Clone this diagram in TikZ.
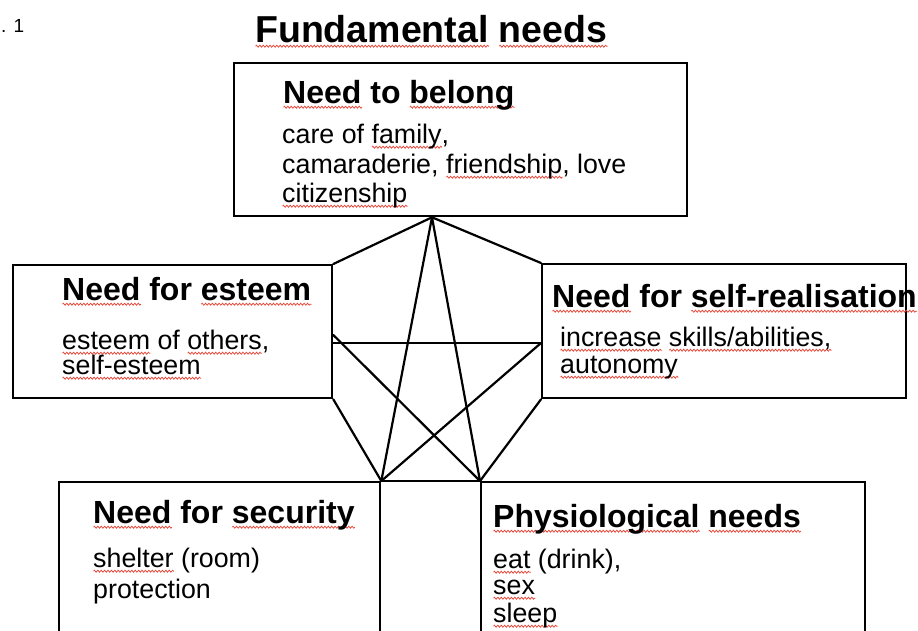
\documentclass[tikz,border=0pt]{standalone}
\usepackage{fontspec}
\setmainfont{Liberation Sans}
\usetikzlibrary{decorations.pathmorphing}
\definecolor{sqred}{RGB}{232,70,55}
\newsavebox\sqbox
\newlength\sqw
\newcommand\sq[1]{\sbox\sqbox{#1}\setlength\sqw{\wd\sqbox}\rlap{\tikz[baseline=0pt]\draw[sqred,line width=0.75pt,decorate,decoration={zigzag,amplitude=1pt,segment length=3.4pt}] (0pt,-4.2pt) -- (\sqw,-4.2pt);}\usebox\sqbox}
\tikzset{
  box/.style={draw, line width=2.3pt, inner sep=0pt, anchor=north west},
  link/.style={line width=2.2pt, line join=round, line cap=round},
  title/.style={anchor=base west, inner sep=0pt, font=\fontsize{37.5}{40}\selectfont\bfseries},
  head/.style={anchor=base west, inner sep=0pt, font=\fontsize{32}{36}\selectfont\bfseries},
  body/.style={anchor=base west, inner sep=0pt, font=\fontsize{26.8}{30}\selectfont},
  tag/.style={anchor=base west, inner sep=0pt, font=\fontsize{19}{20}\selectfont},
}
\begin{document}
\begin{tikzpicture}[x=1pt,y=-1pt]
\useasboundingbox (0,0) rectangle (918,630);
\clip (0,0) rectangle (918,630);
% label and title
\node[tag] (fig) at (1,32) {. 1};
\node[title] (ttl) at (255,42) {\sq{Fundamental} \sq{needs}};
% boxes
\node[box, minimum width=453pt, minimum height=153pt] (top) at (233,62) {};
\node[box, minimum width=319pt, minimum height=133pt] (esteem) at (12,264) {};
\node[box, minimum width=364pt, minimum height=134pt] (selfr) at (541,263) {};
\node[box, minimum width=321pt, minimum height=220pt] (secur) at (58,481) {};
\node[box, minimum width=384pt, minimum height=220pt] (phys) at (480,481) {};
% top box text
\node[head] (h1) at (283,103) {\sq{Need} to \sq{belong}};
\node[body] (b11) at (282,143) {care of \sq{family},};
\node[body] (b12) at (282,173) {camaraderie, \sq{friendship}, love};
\node[body] (b13) at (282,202) {\sq{citizenship}};
% esteem
\node[head] (h2) at (62,300) {\sq{Need} for \sq{esteem}};
\node[body] (b21) at (62,349) {\sq{esteem} of \sq{others},};
\node[body] (b22) at (62,374) {\sq{self-esteem}};
% self-realisation
\node[head] (h3) at (552,307) {\sq{Need} for \sq{self-realisation}};
\node[body] (b31) at (560,346) {\sq{increase} \sq{skills/abilities,}};
\node[body] (b32) at (560,373) {\sq{autonomy}};
% security
\node[head] (h4) at (93,523) {\sq{Need} for \sq{security}};
\node[body] (b41) at (93,567) {\sq{shelter} (room)};
\node[body] (b42) at (93,598) {protection};
% physiological
\node[head] (h5) at (493,527) {\sq{Physiological} \sq{needs}};
\node[body] (b51) at (493,568) {\sq{eat} (drink),};
\node[body] (b52) at (493,594) {\sq{sex}};
\node[body] (b53) at (493,622) {\sq{sleep}};
% connection points
\coordinate (T) at (top.south -| 432,0);
\coordinate (LH) at (esteem.north east |- 0,343);
\coordinate (LD) at (esteem.north east |- 0,335);
\coordinate (RH) at (selfr.north west |- 0,343);
% connectors
\draw[link] (esteem.north east) -- (T) -- (selfr.north west);
\draw[link] (secur.north east) -- (T) -- (phys.north west);
\draw[link] (esteem.south east) -- (secur.north east);
\draw[link] (selfr.south west) -- (phys.north west);
\draw[link] (LH) -- (RH);
\draw[link] (LD) -- (phys.north west);
\draw[link] (RH) -- (secur.north east);
\draw[link] (secur.north east) -- (phys.north west);
\end{tikzpicture}
\end{document}
